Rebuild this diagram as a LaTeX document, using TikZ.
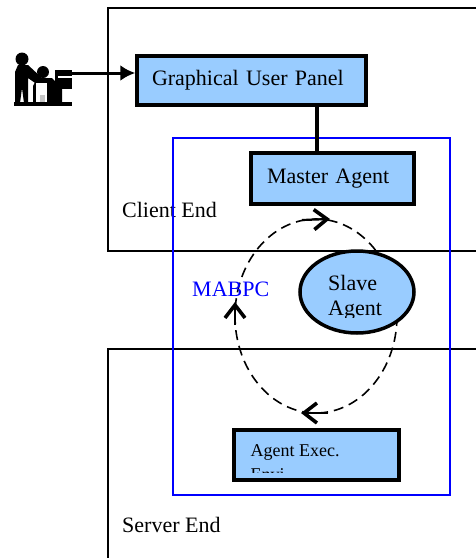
\documentclass[tikz,border=0pt]{standalone}
\usepackage{fontspec}
\setmainfont{Liberation Serif}
\usetikzlibrary{arrows.meta,shapes.geometric}
\definecolor{panelblue}{RGB}{153,204,255}
\tikzset{
    panel/.style={draw,line width=3.5,fill=panelblue,inner ysep=0,align=left,font=\fontsize{22}{25}\selectfont},
    caption/.style={inner sep=0,anchor=west,font=\fontsize{22}{25}\selectfont},
    region/.style={line width=1.3},
    cycleline/.style={line width=1.6,dash pattern=on 10 off 6},
    barb/.style={line width=2.2,-{Straight Barb[length=13,width=20,line width=3.6]}}
}
\begin{document}
\begin{tikzpicture}[x=1pt,y=-1pt]
    \useasboundingbox (0,0) rectangle (476,558);
    % client and server regions run off the page
    \draw[region] (476,8) -- (108,8) -- (108,251) -- (476,251);
    \draw[region] (476,349) -- (108,349) -- (108,558);
    \node[caption] (client) at (122,210) {Client End};
    \node[caption] (server) at (122,525) {Server End};
    \draw[blue,line width=1.3] (173,138) rectangle (450,495);
    % mobile agent cycle
    \draw[cycleline] (316,316) ellipse [x radius=81,y radius=97];
    \coordinate (topstart) at (302,220);
    \coordinate (toptip) at (330,219);
    \coordinate (leftstart) at (235,325);
    \coordinate (lefttip) at (235,302);
    \coordinate (bottomstart) at (328,413);
    \coordinate (bottomtip) at (301,413);
    \draw[barb] (topstart) -- (toptip);
    \draw[barb] (leftstart) -- (lefttip);
    \draw[barb] (bottomstart) -- (bottomtip);
    \node[caption,blue] (mabpc) at (192,289) {MABPC};
    % panels
    \node[panel,text width=199,inner xsep=15,minimum height=49] (gui) at (251.5,80.5) {Graphical User Panel};
    \node[panel,text width=131,inner xsep=16,minimum height=51] (master) at (332.5,178.5) {Master Agent};
    \coordinate (link) at (317,130);
    \draw[line width=3.5] (link |- gui.south) -- (link |- master.north);
    % slave agent, its text is cut off low in the ellipse
    \node[draw,line width=3.5,fill=panelblue,ellipse,minimum width=114,minimum height=82,inner sep=0] (slave) at (357,292) {};
    \begin{scope}
        \clip (320,260) rectangle (400,317);
        \node[inner sep=0,align=left,anchor=base west,font=\fontsize{22}{25}\selectfont] (slavetext) at (328,315) {Slave\\Agent};
    \end{scope}
    % execution environment, same thing
    \node[panel,minimum width=165,minimum height=50,inner sep=0] (exec) at (316.5,455) {};
    \begin{scope}
        \clip (240,435) rectangle (395,472);
        \node[inner sep=0,align=left,anchor=base west,font=\fontsize{18}{24}\selectfont] (exectext) at (250.5,480) {Agent Exec.\\Envi};
    \end{scope}
    % user at the desk
    \begin{scope}
        \fill (22,59) circle [radius=6.5];
        \fill (15,72) -- (18,65) -- (28,65) -- (42,78) -- (38,85) -- (28,78) -- (28,103) -- (24,103) -- (22,88) -- (20,103) -- (15,103) -- cycle;
        \fill (43,72) circle [radius=6];
        \fill (33,86) -- (37,78) -- (52,78) -- (56,82) -- (62,82) -- (62,103) -- (33,103) -- cycle;
        \fill[white] (36,83) rectangle (47,102);
        \fill[gray!45] (40,95) rectangle (45,102);
        \fill (55,70) rectangle (72,89);
        \fill[white] (58,76) rectangle (72,77.5);
        \fill (14,102) rectangle (72,106);
    \end{scope}
    \coordinate (user) at (72,73);
    \draw[line width=3,-{Latex[length=15,width=16]}] (user) -- (gui.west |- user);
\end{tikzpicture}
\end{document}
